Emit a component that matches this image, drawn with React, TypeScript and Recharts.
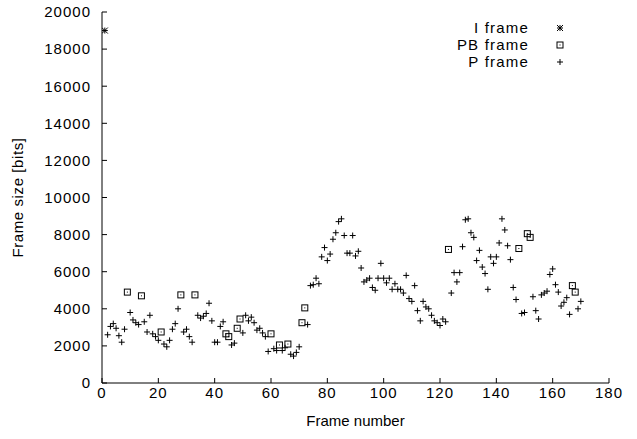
import { ScatterChart, Scatter, XAxis, YAxis, Legend, Label } from "recharts";

// frame sizes in bits, frame 1 .. 170
const FRAME_SIZES = [
  19000, 2600, 3050, 3200, 2950, 2550, 2200, 2900, 4900, 3800,
  3400, 3250, 3150, 4700, 3300, 2750, 3650, 2650, 2500, 2300,
  2750, 2100, 1950, 2300, 2900, 3200, 4000, 4750, 2750, 2900,
  2500, 2200, 4750, 3650, 3500, 3600, 3750, 4300, 3350, 2200,
  2200, 3050, 3300, 2650, 2500, 2050, 2150, 2950, 3450, 2700,
  3650, 3350, 3550, 3250, 2850, 2950, 2700, 2500, 1700, 2650,
  1850, 1750, 2050, 1750, 1900, 2100, 1550, 1450, 1650, 1950,
  3250, 4050, 3150, 5250, 5300, 5650, 5350, 6800, 7300, 6600,
  6950, 7750, 8100, 8700, 8850, 7950, 7000, 7000, 7950, 6850,
  7100, 6200, 5450, 5550, 5650, 5150, 5000, 5650, 6450, 5650,
  5400, 5650, 5050, 5350, 5050, 5050, 4850, 5800, 4550, 4400,
  5250, 3900, 3350, 4400, 4100, 4000, 3650, 3350, 3250, 3100,
  3450, 3300, 7200, 4850, 5950, 5450, 5950, 7350, 8800, 8850,
  8100, 7850, 6600, 7150, 6250, 5900, 5050, 6800, 6450, 6800,
  7550, 8850, 8250, 7400, 6650, 5150, 4500, 7250, 3750, 3800,
  8050, 7850, 4650, 3900, 3450, 4750, 4850, 4950, 5850, 6150,
  5300, 4900, 4150, 4350, 4600, 3700, 5250, 4900, 4000, 4400,
];
const I_FRAMES = [1];
const PB_FRAMES = [9, 14, 21, 28, 33, 44, 45, 48, 49, 60, 63, 66, 71, 72, 123, 148, 151, 152, 167, 168];
const SERIES_NAMES = ["I frame", "PB frame", "P frame"];
const X_TICKS = [0, 20, 40, 60, 80, 100, 120, 140, 160, 180];
const Y_TICKS = [0, 2000, 4000, 6000, 8000, 10000, 12000, 14000, 16000, 18000, 20000];

const FONT = "'Liberation Sans', Arial, Helvetica, sans-serif";
const INK = "#000";

const frames = FRAME_SIZES.map((size, i) => ({ frame: i + 1, size }));
const iData = frames.filter((d) => I_FRAMES.includes(d.frame));
const pbData = frames.filter((d) => PB_FRAMES.includes(d.frame));
const pData = frames.filter((d) => !I_FRAMES.includes(d.frame) && !PB_FRAMES.includes(d.frame));

function Star({ cx, cy }: any) {
  const r = 3;
  return (
    <g stroke={INK} strokeWidth={1}>
      <line x1={cx - r} y1={cy} x2={cx + r} y2={cy} />
      <line x1={cx} y1={cy - r} x2={cx} y2={cy + r} />
      <line x1={cx - r} y1={cy - r} x2={cx + r} y2={cy + r} />
      <line x1={cx - r} y1={cy + r} x2={cx + r} y2={cy - r} />
    </g>
  );
}

function Box({ cx, cy }: any) {
  const r = 3;
  return (
    <g>
      <rect x={cx - r} y={cy - r} width={r * 2} height={r * 2} fill="none" stroke={INK} strokeWidth={1} />
      <rect x={cx - 0.5} y={cy - 0.5} width={1} height={1} fill={INK} />
    </g>
  );
}

function Plus({ cx, cy }: any) {
  const r = 3;
  return (
    <g stroke={INK} strokeWidth={1}>
      <line x1={cx - r} y1={cy} x2={cx + r} y2={cy} />
      <line x1={cx} y1={cy - r} x2={cx} y2={cy + r} />
    </g>
  );
}

const MARKERS: Record<string, any> = { "I frame": Star, "PB frame": Box, "P frame": Plus };

function FrameLegend({ payload }: any) {
  const names = (payload || []).map((p: any) => p.value);
  const items = SERIES_NAMES.filter((n) => names.includes(n));
  return (
    <svg width={140} height={56}>
      {items.map((name, i) => {
        const Marker = MARKERS[name];
        const y = 10 + i * 17;
        return (
          <g key={name}>
            <text
              x={89}
              y={y}
              dy="0.355em"
              textAnchor="end"
              fontSize={15}
              fill={INK}
              style={{ fontFamily: FONT, letterSpacing: 1.2 }}
            >
              {name}
            </text>
            <Marker cx={120} cy={y} />
          </g>
        );
      })}
    </svg>
  );
}

export default function App() {
  const tick = { fill: INK, fontSize: 15, letterSpacing: 1 };
  return (
    <div style={{ position: "absolute", left: 0, top: 0, fontFamily: FONT, background: "#fff" }}>
      <ScatterChart width={637} height={439} margin={{ top: 12, right: 28, bottom: 4, left: 8 }}>
        <XAxis
          dataKey="frame"
          type="number"
          domain={[0, 180]}
          ticks={X_TICKS}
          interval={0}
          allowDataOverflow
          tick={tick}
          tickSize={-5}
          tickMargin={9}
          height={52}
          stroke={INK}
        >
          <Label value="Frame number" position="insideBottom" offset={9} fill={INK} fontSize={15} />
        </XAxis>
        <YAxis
          dataKey="size"
          type="number"
          domain={[0, 20000]}
          ticks={Y_TICKS}
          interval={0}
          allowDataOverflow
          tick={tick}
          tickSize={-5}
          tickMargin={16}
          width={94}
          stroke={INK}
        >
          <Label
            value="Frame size [bits]"
            angle={-90}
            position="insideLeft"
            offset={10}
            fill={INK}
            fontSize={15}
            style={{ textAnchor: "middle", letterSpacing: 0.6 }}
          />
        </YAxis>
        <XAxis xAxisId="top" orientation="top" type="number" domain={[0, 180]} ticks={X_TICKS} interval={0} allowDataOverflow tick={false} tickSize={-5} height={0} stroke={INK} />
        <YAxis yAxisId="right" orientation="right" type="number" domain={[0, 20000]} ticks={Y_TICKS} interval={0} allowDataOverflow tick={false} tickSize={-5} width={0} stroke={INK} />
        <Legend
          layout="vertical"
          align="center"
          verticalAlign="middle"
          wrapperStyle={{ left: 440, top: 18, width: 140, height: 56 }}
          content={<FrameLegend />}
        />
        <Scatter name="I frame" data={iData} shape={<Star />} isAnimationActive={false} />
        <Scatter name="PB frame" data={pbData} shape={<Box />} isAnimationActive={false} />
        <Scatter name="P frame" data={pData} shape={<Plus />} isAnimationActive={false} />
      </ScatterChart>
    </div>
  );
}
